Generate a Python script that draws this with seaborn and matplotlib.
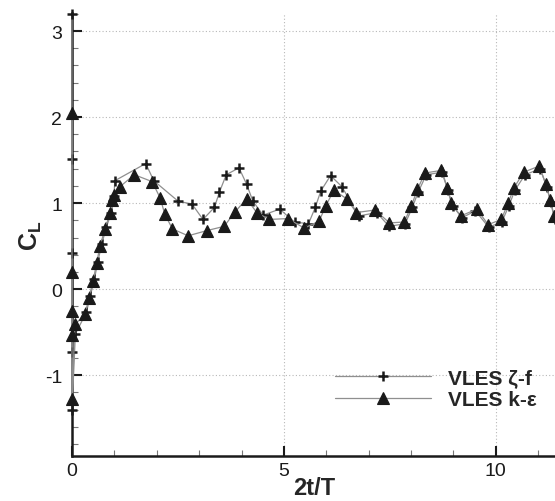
#!/usr/bin/env python3
"""Lift coefficient history: VLES zeta-f vs VLES k-epsilon."""
import matplotlib
matplotlib.use("Agg")
import matplotlib.pyplot as plt
from matplotlib.lines import Line2D
from matplotlib.ticker import MultipleLocator
import seaborn as sns

# VLES zeta-f (plus markers)
zf_t = [0, 0, 0, 0, 0, 0.08, 0.34, 0.43, 0.53, 0.61, 0.70, 0.81, 0.93, 0.99, 1.01,
        1.74, 1.93, 2.51, 2.83, 3.09, 3.36, 3.48, 3.64, 3.94, 4.12, 4.27, 4.51, 4.90,
        5.25, 5.58, 5.74, 5.87, 6.10, 6.37, 6.76, 7.19, 7.48, 7.86, 8.03, 8.17, 8.36,
        8.74, 8.87, 8.98, 9.20, 9.52, 9.83, 10.14, 10.31, 10.45, 10.69, 11.05, 11.20,
        11.30, 11.39]
zf_cl = [3.20, 1.51, 0.42, -0.73, -1.40, -0.52, -0.27, -0.08, 0.12, 0.32, 0.52, 0.72,
         0.89, 1.08, 1.26, 1.46, 1.26, 1.02, 0.99, 0.81, 0.95, 1.13, 1.33, 1.41, 1.22,
         1.02, 0.86, 0.93, 0.78, 0.76, 0.95, 1.14, 1.32, 1.19, 0.85, 0.89, 0.73, 0.76,
         0.95, 1.13, 1.33, 1.36, 1.15, 0.97, 0.83, 0.91, 0.72, 0.78, 0.97, 1.15, 1.33,
         1.40, 1.19, 1.01, 0.82]

# VLES k-epsilon (triangle markers)
ke_t = [0, 0, 0, 0, 0, 0.07, 0.31, 0.40, 0.50, 0.58, 0.66, 0.78, 0.90, 0.95, 1.00,
        1.13, 1.47, 1.89, 2.08, 2.19, 2.37, 2.74, 3.18, 3.59, 3.85, 4.12, 4.36, 4.65,
        5.09, 5.48, 5.83, 5.99, 6.18, 6.48, 6.71, 7.15, 7.49, 7.84, 8.01, 8.15, 8.33,
        8.71, 8.85, 8.95, 9.17, 9.55, 9.82, 10.13, 10.29, 10.43, 10.66, 11.02, 11.18,
        11.28, 11.37]
ke_cl = [2.05, 0.20, -0.26, -0.53, -1.28, -0.41, -0.29, -0.10, 0.10, 0.30, 0.50, 0.70,
         0.89, 1.04, 1.10, 1.19, 1.33, 1.25, 1.06, 0.87, 0.70, 0.62, 0.68, 0.73, 0.90,
         1.05, 0.89, 0.81, 0.82, 0.71, 0.79, 0.97, 1.15, 1.05, 0.89, 0.92, 0.77, 0.78,
         0.97, 1.16, 1.35, 1.38, 1.18, 1.00, 0.85, 0.93, 0.75, 0.81, 1.00, 1.18, 1.36,
         1.43, 1.22, 1.04, 0.85]

labels = ["VLES ζ-f", "VLES k-ε"]

sns.set_theme(style="white")
plt.rcParams.update({
    "font.family": ["Liberation Sans", "DejaVu Sans"],
    "mathtext.fontset": "custom",
    "mathtext.rm": "Liberation Sans",
    "mathtext.bf": "Liberation Sans:bold",
})

LINE = "#8f8f8f"

fig = plt.figure(figsize=(5.55, 5.02), dpi=100)
ax = fig.add_axes([72 / 555, 45 / 502, 484 / 555, 443 / 502])

sns.lineplot(x=zf_t, y=zf_cl, sort=False, estimator=None, color=LINE, lw=0.9,
             marker="+", markersize=7, markeredgewidth=1.8,
             markeredgecolor="k", markerfacecolor="k", clip_on=False, zorder=3, ax=ax)
sns.lineplot(x=ke_t, y=ke_cl, sort=False, estimator=None, color=LINE, lw=0.9,
             marker="^", markersize=9, markeredgewidth=0.8,
             markeredgecolor="k", markerfacecolor="k", clip_on=False, zorder=4, ax=ax)

ax.set_xlim(0, 11.42)
ax.set_ylim(-1.94, 3.21)
ax.xaxis.set_major_locator(MultipleLocator(5))
ax.xaxis.set_minor_locator(MultipleLocator(1))
ax.yaxis.set_major_locator(MultipleLocator(1))
ax.yaxis.set_minor_locator(MultipleLocator(0.2))

ax.grid(which="major", color="#b8b8b8", linestyle=(0, (1, 2)), linewidth=0.8)
ax.set_axisbelow(True)
for side in ("top", "right"):
    ax.spines[side].set_visible(False)
for side in ("left", "bottom"):
    ax.spines[side].set_color("k")
    ax.spines[side].set_linewidth(1.8)

ax.tick_params(which="major", direction="in", length=7.2, width=1.5, color="k",
               labelsize=14, labelcolor="k")
ax.tick_params(which="minor", direction="in", length=4, width=0.8, color="#777777")
ax.tick_params(axis="y", which="both", left=True, pad=7)
ax.tick_params(axis="x", which="both", bottom=True, pad=4)
ax.set_yticks([-1, 0, 1, 2, 3])
ax.set_yticklabels(["-1", "0", "1", "2", "3"])

ax.set_xlabel("2t/T", fontsize=17, fontweight="bold")
ax.xaxis.set_label_coords(0.5, -0.045)
ax.set_ylabel(r"$\mathbf{C_L}$", fontsize=18)
ax.yaxis.set_label_coords(-0.058, 0.5)

handles = [
    Line2D([], [], color=LINE, lw=0.9, marker="+", markersize=7, markeredgewidth=1.8,
           markeredgecolor="k"),
    Line2D([], [], color=LINE, lw=0.9, marker="^", markersize=9, markeredgewidth=0.8,
           markeredgecolor="k", markerfacecolor="k"),
]
ax.legend(handles, labels, loc="upper left", bbox_to_anchor=(335 / 555, 1 - 369 / 502),
          bbox_transform=fig.transFigure, frameon=False, borderpad=0, borderaxespad=0,
          handlelength=4.6, handletextpad=0.8, labelspacing=0.15,
          prop={"size": 15, "weight": "bold"})

fig.savefig("out.png", dpi=100)
